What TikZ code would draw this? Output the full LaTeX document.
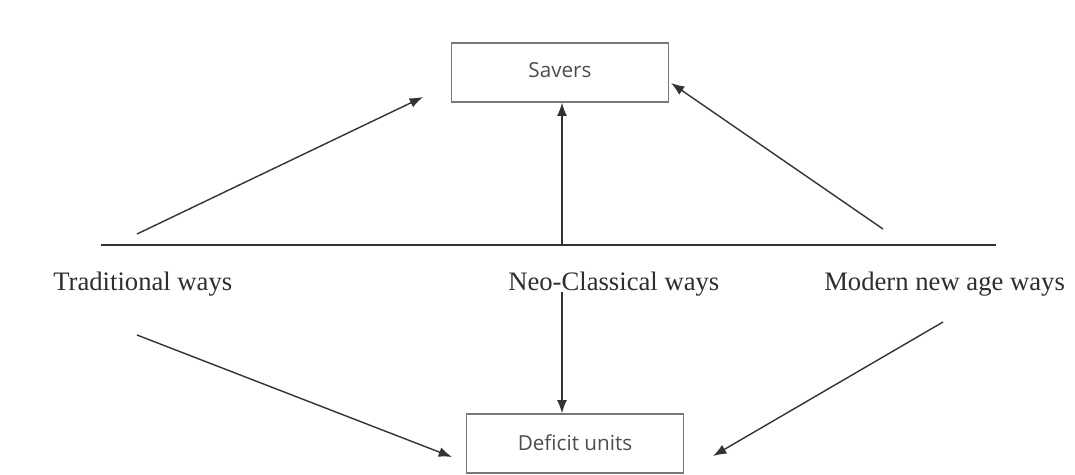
\documentclass[tikz,border=0pt]{standalone}
\usepackage{fontspec}
\setmainfont{Liberation Serif}
\newfontfamily\boxfont{Open Sans}
\usetikzlibrary{arrows.meta,positioning,calc}

\definecolor{linegray}{HTML}{333333}
\definecolor{boxgray}{HTML}{787878}
\definecolor{textgray}{HTML}{2E2E2E}
\tikzset{
  unitbox/.style={draw=boxgray, line width=1.2pt, rectangle, minimum width=163pt, minimum height=44pt, font=\boxfont\fontsize{15.5}{18}\selectfont, text=textgray!85},
  waylabel/.style={anchor=base west, inner sep=0pt, font=\fontsize{20}{24}\selectfont, text=textgray},
  flow/.style={-{Latex[length=10pt,width=7.5pt]}, draw=linegray, line width=1.05pt}
}

\begin{document}
\begin{tikzpicture}[x=0.75pt, y=-0.75pt]
\useasboundingbox[fill=white] (0,0) rectangle (1075,475);

\node[unitbox] (savers) at (560,72.5) {\raisebox{3pt}{Savers}};
\node[unitbox] (deficit) at (575,443.5) {\raisebox{2pt}{Deficit units}};

\node[waylabel] (trad) at (53,290) {Traditional ways};
\node[waylabel] (neo) at (508,290) {Neo-Classical ways};
\node[waylabel] (modern) at (824,290) {Modern new age ways};

% dividing line
\coordinate (lineL) at (101,245);
\coordinate (lineR) at (996,245);
\draw[draw=linegray, line width=1.05pt] (lineL) -- (lineR);

% arrows towards savers
\coordinate (tradUp) at (137,234);
\coordinate (tradUpEnd) at (423,97);
\coordinate (neoUp) at (562,245);
\coordinate (modUp) at (883,229);
\coordinate (modUpEnd) at (671,83);
\draw[flow] (tradUp) -- (tradUpEnd);
\draw[flow] (neoUp) -- (neoUp |- savers.south);
\draw[flow] (modUp) -- (modUpEnd);

% arrows towards deficit units
\coordinate (tradDown) at (137,335);
\coordinate (tradDownEnd) at (452,457);
\coordinate (neoDown) at (562,292);
\coordinate (modDown) at (943,322);
\coordinate (modDownEnd) at (713,456);
\draw[flow] (tradDown) -- (tradDownEnd);
\draw[flow] (neoDown) -- (neoDown |- deficit.north);
\draw[flow] (modDown) -- (modDownEnd);
\end{tikzpicture}
\end{document}
